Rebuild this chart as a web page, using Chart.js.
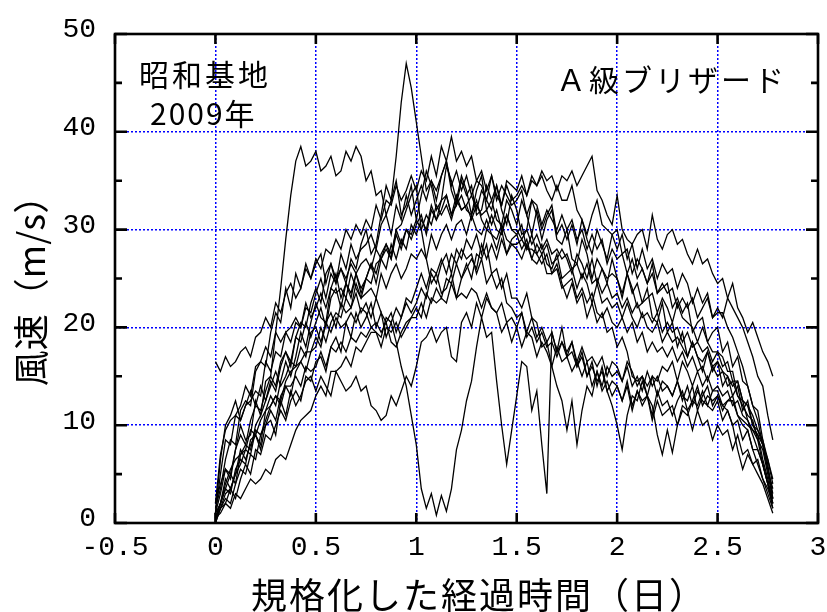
<!DOCTYPE html>
<html>
<head>
<meta charset="utf-8">
<script src="https://cdn.jsdelivr.net/npm/chart.js@4.4.1/dist/chart.umd.min.js"></script>
<style>
  html, body { margin: 0; padding: 0; background: #fff; }
  #wrap { width: 827px; height: 612px; }
</style>
</head>
<body>
<div id="wrap"><canvas id="c" width="827" height="612"></canvas></div>
<script>
// Normalized elapsed time: sample spacing (days) shared by every event
const STEP_DAYS = 0.025;

// Wind speed (m/s) of each A-class blizzard at Syowa Station, 2009
const event01 = [1,3,5.5,4.5,7.5,10,8.5,9,12.5,11, 14.5,15,19.5,24,29,33.5,37,38.5,36.5,37, 38,36,36.5,37.5,35.5,36,38,37,38.5,37.5, 35,36,33.5,34,31.5,33,35,31.5,32.5,34.5, 31,33.5,36,34.5,32,33,36.5,35,33,35.5, 34,31.5,34,35.5,32,33,34.5,32,30.5,33.5, 32,29.5,30,33,31.5,29,31,32,29,28.5, 30,27,26.5,29,27.5,25,27,26,24.5,27, 25,23,25.5,24,22,22.5,24,21,20.5,22.5, 19.5,20.5,18,19.5,17,18.5,17,15.5,17.5,16, 16.5,14,15,13,14,11.5,12.5,10,9.5,8, 5.5,3.5];
const event02 = [0.5,2,3.5,3,5.5,6.5,6,8.5,9,8, 11.5,13,12,14.5,16.5,15,17,19.5,18,20.5, 22.5,21,20.5,24,25.5,23,24.5,27,26,28.5, 30,27.5,28.5,31.5,34.5,33,37.5,43,47,44.5, 41,37.5,34,35,33,35.5,37,34,32.5,35, 33.5,34.5,31.5,32,34.5,33,31,30.5,33,32, 30.5,33,31.5,29.5,32,30,31.5,32.5,29.5,30.5, 29,30.5,28.5,31,29,27.5,30,28.5,27,29.5, 30,27.5,28,25.5,27,26,24.5,26.5,23.5,24, 24.5,22,23,21.5,22.5,19.5,20.5,21,18.5,19.5, 20,17.5,18.5,16,17,14.5,14,12,11.5,8.5, 6,2.5];
const event03 = [1,2,4.5,3.5,5,7.5,6.5,8,9,7.5, 10,10.5,9,12.5,11,13.5,12,13,14.5,15, 13.5,15,14,13,15.5,14.5,13.5,14,15,13.5, 14,12,11.5,10.5,11,13,12,13.5,15,14, 16,18.5,19,20,18.5,19.5,20,17,16.5,20.5, 21.5,20,22.5,21,23,22,21.5,19.5,20.5,18.5, 20,18,19.5,19,17,18.5,17.5,16,18,16.5, 17,15.5,16.5,15,16.5,14,15.5,13.5,14.5,13, 14,12.5,14.5,12,13.5,12.5,13,11,13.5,12, 12.5,11,12.5,13.5,11.5,12.5,14,12,13,12.5, 13,11.5,12.5,12.5,11,10.5,10,9.5,9,8, 6.5,4];
const event04 = [0,1.5,2,3.5,2.5,4.5,6,5,7.5,7, 9,8.5,10,11.5,10.5,12.5,13.5,12.5,15,14.5, 16.5,17,15.5,18,19,17.5,20.5,19,21.5,20, 21,22.5,20,21.5,19,20.5,18.5,16,14,11, 8,3.5,1.5,3,0.8,2.8,1.2,3.5,7.5,9.5, 12.5,14.5,18,21,19,19.5,14.5,10,6,9.5, 13,16.5,16,11.5,13.5,8,3,19.5,17.5,20, 17,18.5,16,17.5,15,16.5,14,16,13.5,14.5, 14,12.5,14,11.5,13.5,12,13,10.5,12.5,11, 11.5,12,10,12,11.5,9.5,11.5,10,10.5,8.5, 10,9,9.5,7.5,9,7,7.5,6,6.5,4.5, 3.5,2];
const event05 = [2,4,5.5,5,7.5,9,8,10.5,12,11.5, 13.5,15,14,16.5,17.5,16,19,18.5,20.5,19, 20.5,22,20,23,24,22,24.5,23.5,25.5,23.5, 25,26.5,24.5,27,28,27,30,30.5,32,33.5, 34.5,30,27,24.5,25.5,23.5,24,25.5,23,25, 26.5,25,27.5,27,28.5,25.5,26,24,25.5,23, 23,22,23.5,21,20.5,18,18.5,16,14,12.5, 9.5,12.5,8,11.5,14,13,15.5,14,16,15, 15.5,14.5,16,14,15,13.5,15.5,14,15,13.5, 14,13,14.5,12.5,14,12,13.5,12.5,12,11.5, 12.5,10.5,11.5,10,10.5,8.5,9.5,7.5,7.5,6, 4,2.5];
const event06 = [16.5,15.5,17,16,16.5,17.5,18,17,19,19.5, 21,20,22.5,21.5,23.5,24.5,23,24,26,25, 27,26,28,27.5,29,28,30,29,30.5,29.5, 31,30,32.5,31,33,32.5,34.5,33,34,35.5, 34,36,35,37.5,35.5,38.5,37,39.5,37,38, 36.5,37.5,35,36,34,35.5,33,34.5,33.5,32.5, 33,34,31.5,33,32.5,30.5,32,31,30,31.5, 30,31,29,30,28,29.5,28,29,26.5,28, 27,27.5,25.5,27,25,26,24.5,25.5,23.5,24.5, 23.5,24,22,23,22,23,21,22,23,21, 22,21,23,24.5,22,21,19.5,20.5,19,17.5, 16.5,15];
const event07 = [0,1.5,2.5,2,4,5.5,5,7,6.5,9, 10,11.5,10.5,13,14,13,15.5,16.5,15.5,17.5, 18,20,18.5,20.5,21.5,21,23,22,24.5,23, 25,26.5,25.5,27.5,28.5,27,29.5,28,30,29, 30.5,31.5,29.5,32,31,33,33.5,31.5,33.5,32, 32.5,33.5,32,34,33,32,34.5,32.5,34.5,33, 33.5,34.5,33.5,35.5,34.5,36,35,35.5,34,35.5, 35,36,34.5,35.5,36.5,37.5,34,33,31.5,30.5, 33.5,30,29,28.5,29.5,30,28,31.5,29,28, 29.5,30,28.5,29,27.5,26.5,28,26.5,27,25.5, 24.5,25,23,22,21,20,18.5,17,15,14, 11,8.5];
const event08 = [0.5,2,3.5,5,4,7,8,7.5,10,11, 12.5,14.5,13.5,16,17.5,16.5,19,20.5,20,22.5, 24,22.5,25.5,26.5,24.5,27.5,26,28.5,27,28, 28.5,29.5,28,30.5,31.5,29.5,32.5,31,33.5,31.5, 33,34.5,33,35,34,35.5,37,34.5,36,34, 35.5,33.5,35,34.5,33,35.5,33.5,32.5,35,34.5, 34,35.5,33.5,35,34.5,35.5,34,33,34.5,33, 33,34.5,32,31,29.5,31.5,33,30.5,30,29.5, 28,29.5,27,28.5,26,28,26,27,25,26.5, 25.5,26,24,25.5,24.5,22.5,24,22.5,23.5,21, 21.5,21.5,20,19,17.5,16,14,12,10.5,8, 5.5,3];
const event09 = [1.5,3.5,6.5,8.5,8,11.5,12.5,12,15.5,16.5, 16,19.5,21.5,20.5,24,22,25.5,24,26.5,25, 26.5,27.5,24.5,26.5,25,26,24.5,23,25.5,24, 25,24.5,26.5,27,26,28.5,27,29,28,30.5, 29.5,31,30,32.5,31,32,33.5,31.5,32.5,33.5, 32,31.5,33,31,30,31.5,30,29.5,31.5,30, 29.5,30.5,28,29.5,27.5,28.5,26.5,26,27.5,25, 25.5,26,24,25.5,24.5,22.5,24.5,22.5,23,22, 22.5,21,22.5,21,20,21.5,20,19.5,20.5,18.5, 19.5,18.5,19,18,17,18.5,17,16.5,17.5,15.5, 16.5,15.5,15,14,14.5,12.5,12,11,9.5,8.5, 6.5,4.5];
const event10 = [0.5,1.5,3,3.5,5,6,7.5,7,9.5,9, 10.5,12,13,12.5,14.5,15.5,16,16.5,17.5,17.5, 19,18,20.5,19.5,21,20,20.5,21.5,20.5,22, 21.5,20,20.5,19.5,20.5,18.5,18,19.5,20.5,21, 22,21,23.5,22.5,24,23,25,24.5,26.5,25, 26,27,26,28.5,27,28.5,27,29,27.5,28.5, 28,27,28.5,27,26.5,27.5,25.5,25.5,26,24, 24.5,25,23,24,22.5,23.5,21.5,21,22,20.5, 20,21,19.5,20.5,18.5,19.5,17.5,18.5,17.5,18, 17,18,16.5,17.5,16,17,15.5,16,14.5,16, 15,15.5,14,14.5,13,12,11,10.5,8.5,7.5, 5,2.5];
const event11 = [0.5,1,2,1.5,3,2.5,3.5,4.5,4,4.5, 5.5,5,6.5,7,6.5,8,9.5,10.5,11,11.5, 13,14,13,15.5,15.5,16,17,16,18,17.5, 18.5,19.5,19.5,19,21,20.5,22,21,23,22.5, 24,25.5,24,26,25.5,27,25.5,27.5,26.5,28, 27,27.5,25.5,27,24.5,25.5,24,25,22.5,22, 21,21.5,19.5,21,19,20,18.5,19.5,17.5,18.5, 17.5,18.5,16.5,18,16.5,17,16,17,15,16.5, 16,14.5,16.5,15.5,14,15,14,15,13,14.5, 14,13,14.5,13,12.5,14,11.5,13,14,12, 13,12,11.5,10,7.5,5.5,7,6,5,4, 2.5,1];
const event12 = [1,6.5,10,11,12.5,10.5,12,13.5,12,14, 12.5,14,15.5,14,15,16.5,16,18,17,19.5, 20,18.5,20.5,21.5,20,22.5,21.5,22,23.5,21.5, 22.5,21,23,21.5,20.5,21.5,19.5,21,22.5,21.5, 22.5,24,23,25.5,24.5,26.5,27.5,25.5,28,27, 29,28,29.5,27.5,30,29.5,28,30,27.5,29, 29.5,28,29,27,28.5,27.5,28.5,26.5,27,28, 27,25.5,27.5,26.5,25,27,24.5,26,25,25.5, 25,23.5,25.5,23.5,24.5,22.5,23,23.5,21.5,23, 22,20.5,22.5,21,20.5,20,18.5,20,18.5,17.5, 17.5,17,15.5,15.5,13,12.5,10.5,9.5,8.5,6, 4,1.5];
const event13 = [2,7,9.5,10.5,11,12,14,13,16,16.5, 18,17,19.5,18.5,19.5,20,21,20,22.5,21, 22,23.5,22,24,23.5,24,23,25.5,24,23, 23.5,24,23,25.5,24,25.5,26.5,25,26,27.5, 27,28,27,29.5,28,29.5,30.5,29,30.5,31, 29.5,31.5,30,29.5,31,29.5,29,30.5,29,28.5, 28.5,29,28,28,27.5,26.5,27.5,25.5,26.5,24.5, 23,24.5,22.5,23.5,21,22.5,20.5,21.5,19.5,20, 18,19,17.5,15,14.5,15,13,12,9,7, 9.5,7.2,10,11.5,11,12.5,12,13.5,12,13.5, 13.5,12,12.5,13,11,10,9.5,7.5,6,4.5, 3,1.5];
const event14 = [0.5,2,4,5.5,6.5,7,7.5,9.5,9,10.5, 11.5,12,13,12,14,14,15,14,16,15.5, 16,17.5,16,18,17.5,18.5,17.5,19,18.5,19.5, 19,20,19.5,18,20,19.5,20.5,19,20,21, 21,22.5,21,23,22.5,23,22.5,24.5,23,23.5, 23,24,23.5,22,23.5,22,21.5,22.5,20.5,21, 20,21.5,19,20,18.5,19.5,18,18.5,17,18.5, 17,17.5,16,17,15,16,14.5,15.5,13.5,12, 10,7.5,11,13,12.5,14.5,13,15,14.5,16, 15.5,16.5,14.5,16.5,15.5,14,15.5,14,15,13.5, 14,13,13.5,12,12.5,11,10.5,9,7.5,6, 4,2];
const event15 = [1,5,8.5,8,11,10.5,12,12.5,13.5,13, 16.5,15.5,17.5,17,19.5,18.5,20.5,20,22,21.5, 23.5,25,23,25.5,24.5,26,25,26.5,25.5,26.5, 27,26,28,27,28.5,27.5,30,28.5,30,29.5, 31,30,31.5,30.5,32.5,31.5,32.5,31,33,32, 32.5,31,32.5,31.5,32,30.5,32,30,31.5,30, 30,29,30,28.5,29.5,28,29,27.5,28,27, 27.5,26,26.5,25,26.5,24.5,25,23.5,24.5,23, 23.5,22,23,21.5,22.5,21,21.5,20.5,21.5,19.5, 20.5,19.5,20,18.5,19.5,18,18.5,17.5,18,16.5, 17.5,16,16.5,14.5,14.5,12.5,12,10,9,6.5, 4.5,2];

const events = [event01, event02, event03, event04, event05, event06, event07, event08,
                event09, event10, event11, event12, event13, event14, event15];

// Axis ticks
const xTickValues = [-0.5, 0, 0.5, 1, 1.5, 2, 2.5, 3];
const yTickValues = [0, 10, 20, 30, 40, 50];
const yMinorTickValues = [5, 15, 25, 35, 45];

// Texts
const xTitle = '規格化した経過時間（日）';
const yTitle = '風速（m/s）';
const stationText = '昭和基地';
const yearText = '2009年';
const classText = 'Ａ級ブリザード';

const CJK = '"Noto Sans CJK JP", "Noto Sans CJK SC", sans-serif';
const MONO = '"Liberation Mono", "DejaVu Sans Mono", monospace';
const GRID_BLUE = 'rgb(0,0,255)';

const datasets = events.map(vals => ({
  data: vals.map((v, i) => ({ x: Math.round(i * STEP_DAYS * 1000) / 1000, y: v })),
  borderColor: '#000',
  borderWidth: 1.3,
  pointRadius: 0,
  fill: false,
  tension: 0
}));

const edgeHidden = (min, max) => ctx =>
  (ctx.tick && (ctx.tick.value === min || ctx.tick.value === max)) ? 'rgba(0,0,0,0)' : GRID_BLUE;

// Frame, inward tick marks, axis titles and notes
const frameAndNotes = {
  id: 'frameAndNotes',
  afterDatasetsDraw(chart) {
    const { ctx, chartArea: a, scales: { x, y } } = chart;
    ctx.save();
    ctx.strokeStyle = '#000';
    ctx.lineWidth = 2.6;
    ctx.strokeRect(a.left, a.top, a.right - a.left, a.bottom - a.top);
    ctx.beginPath();
    xTickValues.forEach(v => {
      const px = x.getPixelForValue(v);
      ctx.moveTo(px, a.bottom); ctx.lineTo(px, a.bottom - 10);
      ctx.moveTo(px, a.top); ctx.lineTo(px, a.top + 10);
    });
    yTickValues.forEach(v => {
      const py = y.getPixelForValue(v);
      ctx.moveTo(a.left, py); ctx.lineTo(a.left + 12, py);
      ctx.moveTo(a.right, py); ctx.lineTo(a.right - 12, py);
    });
    yMinorTickValues.forEach(v => {
      const py = y.getPixelForValue(v);
      ctx.moveTo(a.left, py); ctx.lineTo(a.left + 7, py);
      ctx.moveTo(a.right, py); ctx.lineTo(a.right - 7, py);
    });
    ctx.stroke();

    ctx.fillStyle = '#000';
    ctx.textBaseline = 'middle';
    ctx.textAlign = 'left';
    ctx.font = '30px ' + CJK;
    ctx.letterSpacing = '3px';
    ctx.fillText(stationText, 139, 75);
    ctx.fillText(classText, 556, 80);
    ctx.letterSpacing = '2px';
    ctx.fillText(yearText, 150, 114);

    ctx.font = '36px ' + CJK;
    ctx.fillText(xTitle, 251, 595);
    ctx.letterSpacing = '0px';
    ctx.textAlign = 'center';
    ctx.translate(31, 282);
    ctx.rotate(-Math.PI / 2);
    ctx.fillText(yTitle, 0, 0);
    ctx.restore();
  }
};

new Chart(document.getElementById('c'), {
  type: 'line',
  data: { datasets },
  options: {
    responsive: false,
    animation: false,
    devicePixelRatio: 1,
    layout: { padding: { top: 34, right: 9, left: 0, bottom: 0 } },
    plugins: { legend: { display: false }, tooltip: { enabled: false } },
    scales: {
      x: {
        type: 'linear',
        min: -0.5,
        max: 3,
        afterFit: s => { s.height = 89; s.paddingLeft = 0; s.paddingRight = 0; },
        afterBuildTicks: s => { s.ticks = xTickValues.map(v => ({ value: v })); },
        ticks: {
          font: { family: MONO, size: 28 },
          color: '#000',
          padding: 8,
          maxRotation: 0,
          autoSkip: false,
          callback: v => String(v)
        },
        grid: { color: edgeHidden(-0.5, 3), lineWidth: 1.5, drawTicks: false },
        border: { display: false, dash: [2, 2] }
      },
      y: {
        type: 'linear',
        min: 0,
        max: 50,
        afterFit: s => { s.width = 115; s.paddingTop = 0; s.paddingBottom = 0; },
        afterBuildTicks: s => { s.ticks = yTickValues.map(v => ({ value: v })); },
        ticks: {
          font: { family: MONO, size: 28 },
          color: '#000',
          padding: 19,
          labelOffset: -4,
          callback: v => String(v)
        },
        grid: { color: edgeHidden(0, 50), lineWidth: 1.5, drawTicks: false },
        border: { display: false, dash: [2, 2] }
      }
    }
  },
  plugins: [frameAndNotes]
});
</script>
</body>
</html>
